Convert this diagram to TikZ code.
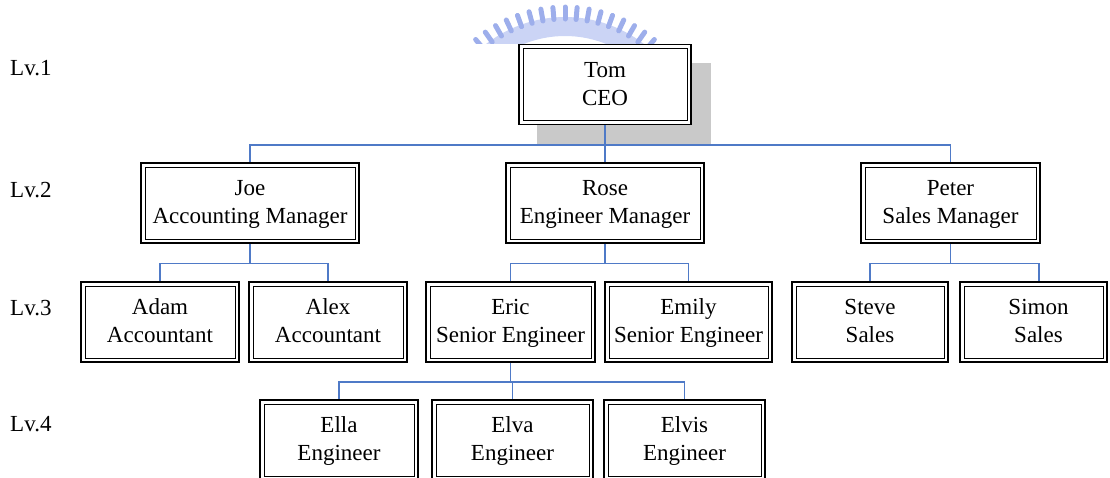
\documentclass[tikz,border=0pt]{standalone}
\usepackage{fontspec}
\setmainfont{Liberation Serif}
\usetikzlibrary{calc}
\pgfdeclarelayer{background}
\pgfsetlayers{background,main}
\definecolor{linkblue}{RGB}{79,122,199}
\definecolor{shadowgray}{RGB}{201,201,201}
\definecolor{crestblue}{RGB}{140,160,232}
\begin{document}
\begin{tikzpicture}[x=1pt,y=-1pt,
  person/.style={draw, line width=1.6pt, fill=white, inner sep=0pt,
    minimum height=80pt, align=center,
    font=\fontsize{23}{28}\selectfont,
    text height=49.4pt, text depth=8.4pt,
    path picture={\draw[line width=1pt]
      ([shift={(4pt,4pt)}]path picture bounding box.south west) rectangle
      ([shift={(-4pt,-4pt)}]path picture bounding box.north east);}},
  level/.style={anchor=base west, inner sep=0pt, font=\fontsize{23}{28}\selectfont},
  link/.style={draw=linkblue, line width=1.4pt},
  tooth/.style={draw=crestblue!85, line width=5pt, line cap=round}
]
\useasboundingbox (0,0) rectangle (1110,477);

% crest above the chart
\begin{scope}
  \clip (440,0) rectangle (700,43);
  \coordinate (crest) at (565,146);
  \fill[crestblue!45] ($(crest)+(-130:129)$) arc[start angle=-130, end angle=-50, radius=129]
        -- ($(crest)+(-50:110)$) arc[start angle=-50, end angle=-130, radius=110] -- cycle;
  \foreach \a in {-40,-35,...,40}
    \draw[tooth] ($(crest)+({-90+\a}:127)$) -- ($(crest)+({-90+\a}:139)$);
\end{scope}

% level labels
\node[level] (lv1) at (10,75) {Lv.1};
\node[level] (lv2) at (10,197) {Lv.2};
\node[level] (lv3) at (10,315) {Lv.3};
\node[level] (lv4) at (10,431) {Lv.4};

% level 1
\node[person, minimum width=172pt] (tom) at (605,84.5) {Tom\\CEO};
\begin{pgfonlayer}{background}
  \fill[shadowgray] ([shift={(19pt,-19pt)}]tom.south west) rectangle ([shift={(19pt,-19pt)}]tom.north east);
\end{pgfonlayer}

% level 2
\node[person, minimum width=218pt] (joe) at (250,203) {Joe\\Accounting Manager};
\node[person, minimum width=198pt] (rose) at (605,203) {Rose\\Engineer Manager};
\node[person, minimum width=179pt] (peter) at (950.5,203) {Peter\\Sales Manager};

% level 3
\node[person, minimum width=158pt] (adam) at (160,322) {Adam\\Accountant};
\node[person, minimum width=158pt] (alex) at (328,322) {Alex\\Accountant};
\node[person, minimum width=169pt] (eric) at (510.5,322) {Eric\\Senior Engineer};
\node[person, minimum width=167pt] (emily) at (688.5,322) {Emily\\Senior Engineer};
\node[person, minimum width=156pt] (steve) at (870,322) {Steve\\Sales};
\node[person, minimum width=147pt] (simon) at (1033.5,322) {\hspace*{10pt}Simon\\\hspace*{10pt}Sales};

% level 4
\node[person, minimum width=158pt] (ella) at (339,440) {Ella\\Engineer};
\node[person, minimum width=161pt] (elva) at (512.5,440) {Elva\\Engineer};
\node[person, minimum width=161pt] (elvis) at (684.5,440) {Elvis\\Engineer};

% reporting lines
\foreach \c in {joe,rose,peter}
  \draw[link] (tom.south) -- ++(0,19.5) -| (\c.north);
\foreach \c in {adam,alex}
  \draw[link] (joe.south) -- ++(0,19.5) -| (\c.north);
\foreach \c in {eric,emily}
  \draw[link] (rose.south) -- ++(0,19.5) -| (\c.north);
\draw[link] (peter.south) -- ++(0,19.5) -| (steve.north);
\draw[link] (peter.south) -- ++(0,19.5) -| ([xshift=5.5pt]simon.north);
\foreach \c in {ella,elva,elvis}
  \draw[link] (eric.south) -- ++(0,19) -| (\c.north);
\end{tikzpicture}
\end{document}
